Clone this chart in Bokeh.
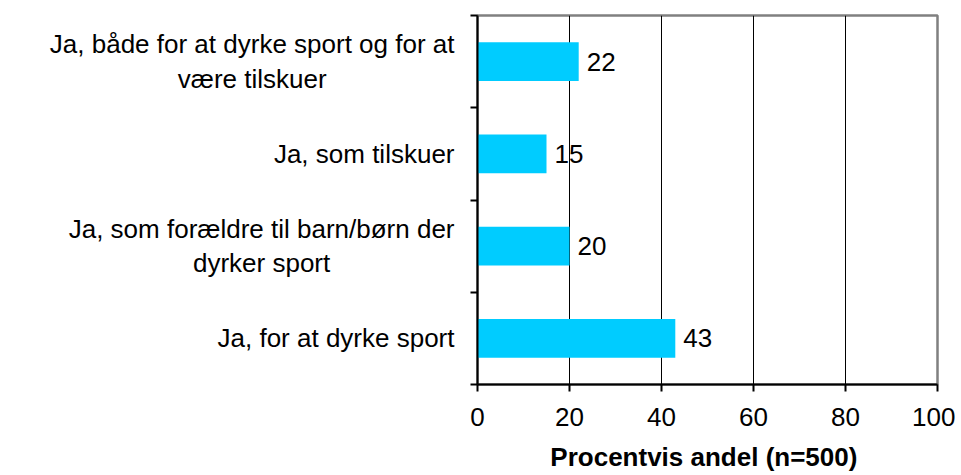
from bokeh.plotting import figure
from bokeh.models import ColumnDataSource, FixedTicker, Range1d
from bokeh.layouts import row
from bokeh.core.properties import value
from bokeh.embed import file_html
from bokeh.resources import INLINE

# Data (top to bottom as shown)
categories = [
    "Ja, både for at dyrke sport og for at\nvære tilskuer",
    "Ja, som tilskuer",
    "Ja, som forældre til barn/børn der\ndyrker sport",
    "Ja, for at dyrke sport",
]
values = [22, 15, 20, 43]
x_ticks = [0, 20, 40, 60, 80, 100]
x_title = "Procentvis andel  (n=500)"

FONT = "Liberation Sans"
FS = 26
n = len(categories)
ypos = [n - 1 - i + 0.5 for i in range(n)]

H = 475
TOP = 15
BOTTOM = H - 384
LABEL_W = 457
CHART_W = 498

# approximate Liberation Sans advance widths (em) to center multi-line blocks
ADV = {c: 0.556 for c in "abdeghnopquå0123456789"}
ADV.update({"J": 0.5, ",": 0.278, " ": 0.278, "f": 0.278, "t": 0.278, "r": 0.333,
            "i": 0.222, "l": 0.222, "s": 0.5, "k": 0.5, "y": 0.5, "v": 0.5,
            "m": 0.833, "/": 0.278, "æ": 0.889, "ø": 0.611})


def text_w(s):
    return max(sum(ADV.get(c, 0.556) for c in line) for line in s.split("\n")) * FS


RIGHT_EDGE = 454
lab_x, lab_align = [], []
for cat in categories:
    if "\n" in cat:
        lab_x.append(RIGHT_EDGE - text_w(cat) / 2)
        lab_align.append("center")
    else:
        lab_x.append(RIGHT_EDGE)
        lab_align.append("right")

pl = figure(width=LABEL_W, height=H, output_backend="svg", toolbar_location=None,
            x_range=Range1d(0, LABEL_W), y_range=Range1d(0, n),
            x_axis_type=None, y_axis_type=None,
            min_border_left=0, min_border_right=0,
            min_border_top=TOP, min_border_bottom=BOTTOM)
pl.outline_line_color = None
pl.grid.visible = False
lsrc = ColumnDataSource(dict(x=lab_x, y=ypos, t=categories, a=lab_align))
pl.text(x="x", y="y", text="t", text_align="a", source=lsrc,
        text_font=value(FONT), text_font_size=f"{FS}px", text_color="black",
        text_baseline="middle", text_line_height=1.15)

p = figure(width=CHART_W, height=H, output_backend="svg", toolbar_location=None,
           x_range=Range1d(0, 100), y_range=Range1d(0, n),
           min_border_left=20, min_border_top=TOP, min_border_right=18,
           min_border_bottom=BOTTOM)
p.background_fill_color = "white"
p.border_fill_color = "white"
p.outline_line_color = "#808080"
p.outline_line_width = 2.5

src = ColumnDataSource(dict(y=ypos, v=values, lab=[str(v) for v in values]))
p.hbar(y="y", right="v", left=0, height=0.42, source=src,
       fill_color="#00CCFF", line_color=None)
p.text(x="v", y="y", text="lab", source=src, x_offset=8,
       text_font=value(FONT), text_font_size=f"{FS}px", text_color="black",
       text_baseline="middle", text_align="left")

p.ygrid.visible = False
p.xgrid.ticker = FixedTicker(ticks=x_ticks)
p.xgrid.grid_line_color = "black"
p.xgrid.grid_line_width = 1

xa = p.xaxis[0]
xa.ticker = FixedTicker(ticks=x_ticks)
xa.axis_line_color = "black"
xa.axis_line_width = 2
xa.major_tick_line_color = "black"
xa.major_tick_line_width = 2
xa.major_tick_out = 7
xa.major_tick_in = 0
xa.minor_tick_line_color = None
xa.major_label_text_font = FONT
xa.major_label_text_font_size = f"{FS}px"
xa.major_label_text_color = "black"
xa.major_label_standoff = 16
xa.axis_label = x_title
xa.axis_label_text_font = FONT
xa.axis_label_text_font_size = f"{FS}px"
xa.axis_label_text_font_style = "bold"
xa.axis_label_text_color = "black"
xa.axis_label_standoff = 13

ya = p.yaxis[0]
ya.ticker = FixedTicker(ticks=list(range(n + 1)))
ya.axis_line_color = "black"
ya.axis_line_width = 2
ya.major_tick_line_color = "black"
ya.major_tick_line_width = 2
ya.major_tick_out = 7
ya.major_tick_in = 0
ya.minor_tick_line_color = None
ya.major_label_text_font_size = "0px"
ya.major_label_text_color = None
ya.major_label_standoff = 0

layout = row(pl, p, spacing=0)
open("out.html", "w").write(file_html(layout, INLINE))
